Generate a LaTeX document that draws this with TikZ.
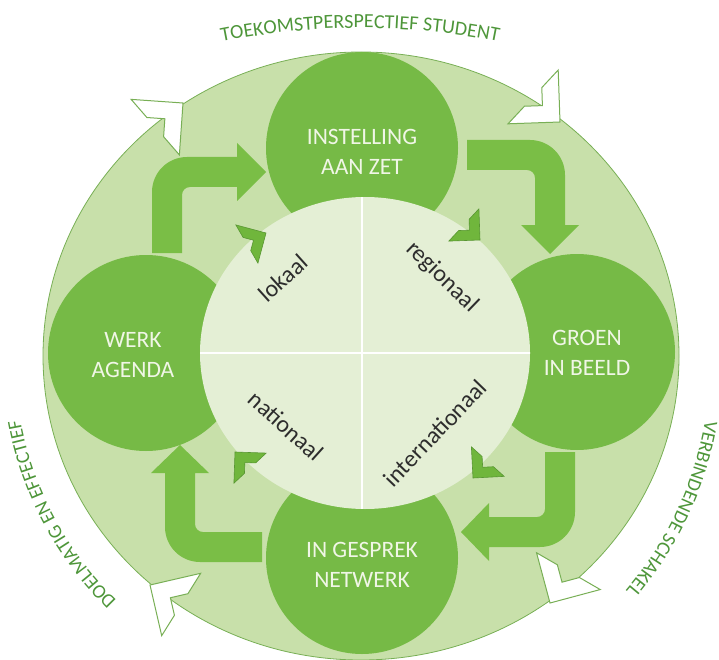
\documentclass[tikz,border=0pt]{standalone}
\usepackage{fontspec}
\setmainfont{Carlito}
\usetikzlibrary{decorations.text}
\definecolor{bgring}{RGB}{200,224,170}
\definecolor{ringline}{RGB}{120,175,85}
\definecolor{nodegreen}{RGB}{118,186,70}
\definecolor{arrowgreen}{RGB}{122,190,70}
\definecolor{innerfill}{RGB}{228,239,213}
\definecolor{chevgreen}{RGB}{112,182,60}
\definecolor{chevline}{RGB}{88,150,50}
\definecolor{outtext}{RGB}{78,150,58}
\definecolor{nodetext}{RGB}{240,246,230}
\definecolor{labeltext}{RGB}{45,45,45}
\begin{document}
\begin{tikzpicture}[x=1pt,y=1pt,
  hub/.style={circle, fill=nodegreen, minimum size=#1, inner sep=0pt},
  hubtext/.style={text=nodetext, align=center, inner sep=0pt, font=\fontsize{23.5pt}{30pt}\selectfont},
  scopelabel/.style={text=labeltext, inner sep=0pt, font=\fontsize{24pt}{28pt}\selectfont},
  bentarrow/.style={fill=arrowgreen},
  chev/.pic={\path[pic actions] (0,0) -- (-52,0) -- (-35,-17) -- (-17,-17) -- (-17,-35) -- (0,-52) -- cycle;},
  whitechev/.style={fill=white, draw=ringline, line width=1pt, line join=miter},
  greenchev/.style={fill=chevgreen, draw=chevline, line width=0.6pt, scale=0.6},
]
\useasboundingbox (0,0) rectangle (719,-660);
\clip (0,0) rectangle (719,-660);

% outer ring
\path[fill=bgring, draw=ringline, line width=0.8pt] (361,-356) ellipse [x radius=318pt, y radius=304pt];

% hubs
\node[hub=192pt] (hubT) at (362,-148) {};
\node[hub=196pt] (hubL) at (146,-353) {};
\node[hub=196pt] (hubR) at (577,-352) {};
\node[hub=192pt] (hubB) at (362,-558) {};

% bent arrows
\fill[bentarrow] (152,-253) -- (152,-192) arc[start angle=180, end angle=90, radius=35pt] -- (237,-157) -- (237,-143) -- (266,-172) -- (237,-201) -- (237,-187) -- (190,-187) arc[start angle=90, end angle=180, radius=8pt] -- (182,-253) -- cycle;
\fill[bentarrow] (467,-140) -- (530,-140) arc[start angle=90, end angle=0, radius=35pt] -- (565,-225) -- (579,-225) -- (550,-254) -- (521,-225) -- (535,-225) -- (535,-178) arc[start angle=0, end angle=90, radius=8pt] -- (467,-170) -- cycle;
\fill[bentarrow] (545,-452) -- (575,-452) -- (575,-512) arc[start angle=0, end angle=-90, radius=35pt] -- (489,-547) -- (489,-561) -- (461,-532) -- (489,-503) -- (489,-517) -- (537,-517) arc[start angle=-90, end angle=0, radius=8pt] -- (545,-452) -- cycle;
\fill[bentarrow] (262,-532) -- (262,-562) -- (200,-562) arc[start angle=-90, end angle=-180, radius=35pt] -- (165,-473) -- (151,-473) -- (180,-445) -- (209,-473) -- (195,-473) -- (195,-524) arc[start angle=180, end angle=270, radius=8pt] -- (262,-532) -- cycle;

% inner disc with cross
\begin{scope}
\path[fill=innerfill] (365,-353) ellipse [x radius=165pt, y radius=156pt];
\clip (365,-353) ellipse [x radius=165pt, y radius=156pt];
\draw[white, line width=1.5pt] (362,-190) -- (362,-520);
\draw[white, line width=1.5pt] (190,-353) -- (540,-353);
\end{scope}

% outer white chevrons
\pic[whitechev, rotate=-4] at (183,-103) {chev};
\pic[whitechev, rotate=-88] at (560,-122) {chev};
\pic[whitechev, rotate=-165] at (550,-603) {chev};
\pic[whitechev, rotate=103] at (150,-585) {chev};

% inner green chevrons
\pic[greenchev, rotate=-15] at (266,-233) {chev};
\pic[greenchev, rotate=-88] at (480,-240) {chev};
\pic[greenchev, rotate=-177] at (473,-478) {chev};
\pic[greenchev, rotate=88] at (235,-452) {chev};

% hub texts
\node[hubtext] (tT) at (362,-152) {INSTELLING\\AAN ZET};
\node[hubtext] (tL) at (133,-355) {WERK\\AGENDA};
\node[hubtext] (tR) at (587,-353) {GROEN\\IN BEELD};
\node[hubtext] (tB) at (362,-565) {IN GESPREK\\NETWERK};

% scope labels
\node[scopelabel, rotate=42] (lok) at (283,-278) {lokaal};
\node[scopelabel, rotate=-44] (reg) at (442,-277) {regionaal};
\node[scopelabel, rotate=-42] (nat) at (286,-426) {nationaal};
\node[scopelabel, rotate=46] (int) at (435,-433) {internationaal};

% outer arc texts
\path[decorate, decoration={text along path, text align=center,
  text={|\fontsize{20pt}{24pt}\selectfont\color{outtext}|TOEKOMSTPERSPECTIEF STUDENT}}]
  (120.6,-70.2) arc[start angle=110, end angle=70, radius=700pt];
\path[decorate, decoration={text along path, text align=center,
  text={|\fontsize{19.5pt}{24pt}\selectfont\color{outtext}|DOELMATIG EN EFFECTIEF}}]
  (163.1,-638.3) arc[start angle=236, end angle=180, radius=336pt];
\path[decorate, decoration={text along path, text align=center,
  text={|\fontsize{19.5pt}{24pt}\selectfont\color{outtext}|VERBINDENDE SCHAKEL}}]
  (708.6,-331.4) arc[start angle=5, end angle=-55, radius=352pt];
\end{tikzpicture}
\end{document}
